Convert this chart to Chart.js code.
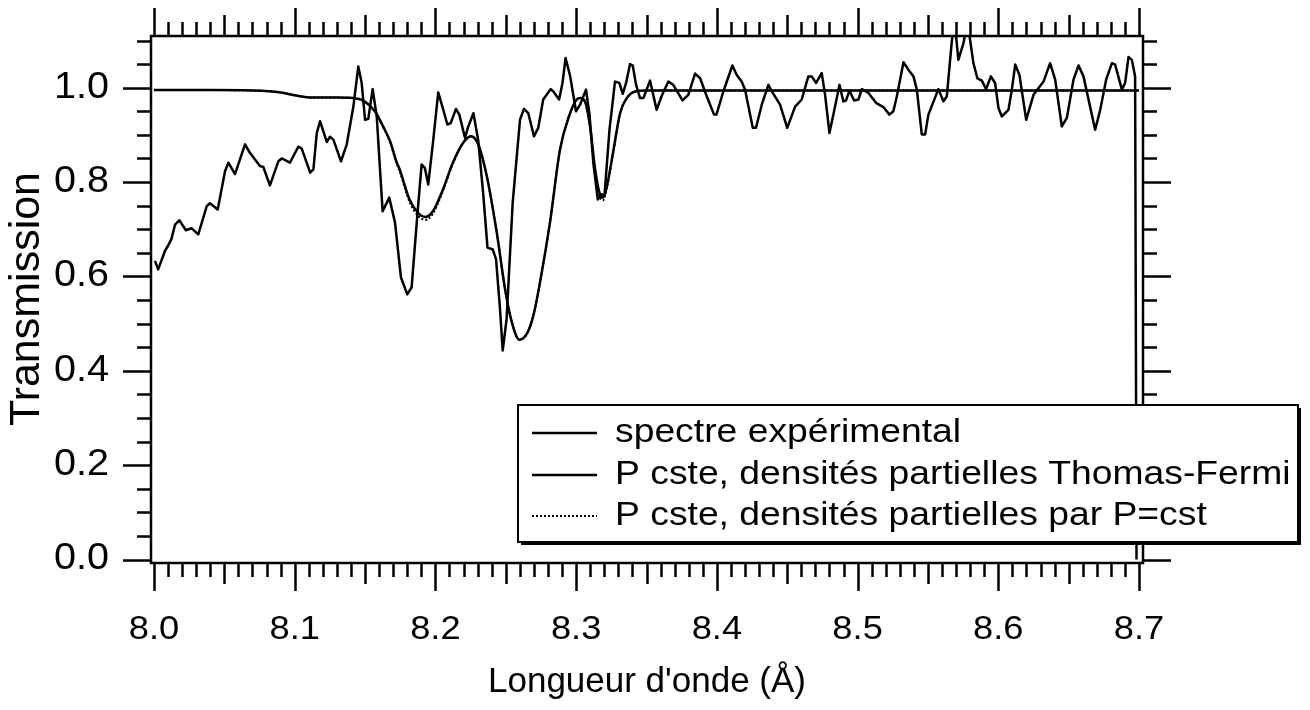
<!DOCTYPE html>
<html>
<head>
<meta charset="utf-8">
<script src="https://cdn.jsdelivr.net/npm/chart.js@4.4.1/dist/chart.umd.min.js"></script>
<style>
  html, body { margin: 0; padding: 0; background: #fff; }
  #wrap { width: 1310px; height: 710px; }
</style>
</head>
<body>
<div id="wrap"><canvas id="transChart" width="1310" height="710"></canvas></div>
<script>
// spectre expérimental
const waveExp = [
  8.0007, 8.0030, 8.0078, 8.0100, 8.0124, 8.0150, 8.0180, 8.0227, 8.0268, 8.0315,
  8.0375, 8.0398, 8.0453, 8.0505, 8.0529, 8.0576, 8.0647, 8.0682, 8.0753, 8.0777,
  8.0824, 8.0884, 8.0908, 8.0966, 8.1026, 8.1050, 8.1110, 8.1133, 8.1157, 8.1180,
  8.1228, 8.1251, 8.1275, 8.1329, 8.1370, 8.1417, 8.1452, 8.1476, 8.1500, 8.1523,
  8.1554, 8.1583, 8.1625, 8.1672, 8.1713, 8.1755, 8.1800, 8.1831, 8.1871, 8.1902,
  8.1925, 8.1949, 8.1985, 8.2020, 8.2056, 8.2085, 8.2109, 8.2146, 8.2170, 8.2210,
  8.2234, 8.2270, 8.2305, 8.2341, 8.2370, 8.2408, 8.2431, 8.2459, 8.2478, 8.2506,
  8.2549, 8.2601, 8.2629, 8.2660, 8.2700, 8.2731, 8.2766, 8.2819, 8.2838, 8.2879,
  8.2903, 8.2925, 8.2957, 8.2999, 8.3028, 8.3070, 8.3094, 8.3122, 8.3154, 8.3183,
  8.3201, 8.3237, 8.3276, 8.3307, 8.3331, 8.3355, 8.3383, 8.3402, 8.3426, 8.3454,
  8.3478, 8.3525, 8.3572, 8.3607, 8.3655, 8.3690, 8.3756, 8.3797, 8.3845, 8.3881,
  8.3928, 8.3980, 8.3997, 8.4046, 8.4110, 8.4141, 8.4176, 8.4200, 8.4255, 8.4278,
  8.4319, 8.4366, 8.4397, 8.4449, 8.4500, 8.4556, 8.4603, 8.4650, 8.4674, 8.4705,
  8.4745, 8.4769, 8.4800, 8.4828, 8.4871, 8.4899, 8.4918, 8.4942, 8.4975, 8.5006,
  8.5030, 8.5077, 8.5131, 8.5183, 8.5226, 8.5254, 8.5279, 8.5326, 8.5361, 8.5397,
  8.5421, 8.5456, 8.5480, 8.5503, 8.5574, 8.5610, 8.5634, 8.5670, 8.5690, 8.5716,
  8.5752, 8.5780, 8.5800, 8.5823, 8.5851, 8.5883, 8.5913, 8.5947, 8.5977, 8.6001,
  8.6025, 8.6072, 8.6096, 8.6120, 8.6150, 8.6198, 8.6250, 8.6285, 8.6321, 8.6368,
  8.6404, 8.6451, 8.6487, 8.6534, 8.6570, 8.6605, 8.6688, 8.6724, 8.6766, 8.6807,
  8.6830, 8.6878, 8.6901, 8.6925, 8.6949, 8.6972, 8.6982
];
const transExp = [
  0.633, 0.615, 0.654, 0.665, 0.679, 0.710, 0.719, 0.698, 0.702, 0.689,
  0.749, 0.755, 0.742, 0.823, 0.841, 0.817, 0.880, 0.862, 0.834, 0.832,
  0.793, 0.844, 0.850, 0.841, 0.875, 0.871, 0.820, 0.827, 0.904, 0.929,
  0.885, 0.896, 0.890, 0.844, 0.880, 0.960, 1.045, 1.010, 0.932, 0.934,
  0.997, 0.939, 0.738, 0.767, 0.714, 0.598, 0.562, 0.577, 0.728, 0.837,
  0.830, 0.795, 0.890, 0.990, 0.953, 0.922, 0.925, 0.955, 0.943, 0.894,
  0.918, 0.946, 0.887, 0.770, 0.661, 0.657, 0.636, 0.531, 0.443, 0.510,
  0.756, 0.932, 0.955, 0.946, 0.897, 0.915, 0.975, 0.997, 0.992, 0.975,
  1.010, 1.063, 1.025, 0.950, 0.964, 0.996, 0.946, 0.841, 0.763, 0.774,
  0.770, 0.911, 1.013, 1.010, 0.987, 1.010, 1.050, 1.047, 1.006, 0.978,
  0.978, 1.015, 0.953, 0.982, 1.013, 1.006, 0.973, 0.985, 1.030, 1.020,
  0.982, 0.943, 0.943, 0.992, 1.047, 1.027, 1.013, 0.996, 0.915, 0.915,
  0.964, 1.006, 0.989, 0.964, 0.915, 0.960, 0.975, 1.024, 1.024, 1.010,
  1.031, 0.985, 0.904, 0.943, 1.006, 0.971, 0.973, 0.994, 0.973, 0.975,
  0.997, 0.989, 0.968, 0.959, 0.943, 0.950, 0.982, 1.054, 1.038, 1.024,
  0.996, 0.901, 0.901, 0.943, 0.997, 0.971, 0.982, 1.100, 1.140, 1.059,
  1.094, 1.140, 1.100, 1.052, 1.020, 1.015, 0.997, 1.024, 1.010, 0.957,
  0.939, 0.953, 0.996, 1.049, 1.027, 0.932, 0.985, 0.999, 1.013, 1.052,
  1.017, 0.918, 0.936, 1.017, 1.047, 1.024, 0.911, 0.953, 1.017, 1.052,
  1.049, 0.996, 1.010, 1.065, 1.059, 1.024, 0.000
];

// P cste, densités partielles Thomas-Fermi
const waveTF = [
  8.000, 8.040, 8.070, 8.090, 8.100, 8.113, 8.130, 8.141, 8.149, 8.157,
  8.163, 8.168, 8.1721, 8.1748, 8.1816, 8.1876, 8.1930, 8.1982, 8.2053, 8.2124,
  8.2196, 8.2253, 8.2305, 8.2365, 8.2436, 8.2495, 8.2543, 8.2596, 8.2649, 8.2696,
  8.2743, 8.2814, 8.2886, 8.2950, 8.3004, 8.3030, 8.3063, 8.3099, 8.3135, 8.3166,
  8.3190, 8.3218, 8.3266, 8.3312, 8.3360, 8.3420, 8.3500, 8.7000
];
const transTF = [
  0.995, 0.995, 0.994, 0.990, 0.984, 0.979, 0.979, 0.978, 0.972, 0.950,
  0.917, 0.885, 0.845, 0.825, 0.763, 0.735, 0.726, 0.738, 0.784, 0.841,
  0.883, 0.897, 0.879, 0.813, 0.693, 0.573, 0.503, 0.466, 0.478, 0.517,
  0.587, 0.714, 0.870, 0.940, 0.975, 0.978, 0.971, 0.918, 0.827, 0.777,
  0.767, 0.791, 0.869, 0.946, 0.978, 0.992, 0.994, 0.994
];

// P cste, densités partielles par P=cst
const wavePcst = [
  8.000, 8.040, 8.070, 8.090, 8.100, 8.113, 8.130, 8.141, 8.149, 8.157,
  8.163, 8.168, 8.1721, 8.1748, 8.1816, 8.1876, 8.1930, 8.1982, 8.2053, 8.2124,
  8.2196, 8.2253, 8.2305, 8.2365, 8.2436, 8.2495, 8.2543, 8.2596, 8.2649, 8.2696,
  8.2743, 8.2814, 8.2886, 8.2950, 8.3004, 8.3030, 8.3063, 8.3099, 8.3135, 8.3166,
  8.3190, 8.3218, 8.3266, 8.3312, 8.3360, 8.3420, 8.3500, 8.7000
];
const transPcst = [
  0.995, 0.995, 0.994, 0.990, 0.984, 0.979, 0.979, 0.978, 0.972, 0.950,
  0.916, 0.883, 0.842, 0.821, 0.758, 0.729, 0.720, 0.733, 0.781, 0.839,
  0.882, 0.897, 0.879, 0.813, 0.693, 0.573, 0.503, 0.466, 0.478, 0.517,
  0.587, 0.714, 0.870, 0.940, 0.975, 0.978, 0.970, 0.915, 0.822, 0.771,
  0.761, 0.786, 0.866, 0.945, 0.978, 0.992, 0.994, 0.994
];

const xTickLabels = ['8.0', '8.1', '8.2', '8.3', '8.4', '8.5', '8.6', '8.7'];
const yTickLabels = ['0.0', '0.2', '0.4', '0.6', '0.8', '1.0'];
const legendLabels = [
  'spectre expérimental',
  'P cste, densités partielles Thomas-Fermi',
  'P cste, densités partielles par P=cst'
];
const xTitle = "Longueur d'onde (Å)";
const yTitle = 'Transmission';

const FONT = '"Liberation Sans", Arial, Helvetica, sans-serif';

function pts(xs, ys) {
  return xs.map(function (x, i) { return { x: x, y: ys[i] }; });
}

// texte légèrement étiré en largeur, comme sur la figure d'origine
function drawText(ctx, txt, x, y, size, align, sx) {
  ctx.save();
  ctx.translate(x, y);
  ctx.scale(sx, 1);
  ctx.font = size + 'px ' + FONT;
  ctx.textAlign = align;
  ctx.textBaseline = 'middle';
  ctx.fillStyle = '#000';
  ctx.fillText(txt, 0, 0);
  ctx.restore();
}

const igorAxes = {
  id: 'igorAxes',
  afterDatasetsDraw(chart) {
    const ctx = chart.ctx;
    const xs = chart.scales.x;
    const ys = chart.scales.y;
    const a = chart.chartArea;

    ctx.save();
    ctx.strokeStyle = '#000';
    ctx.lineWidth = 2.5;
    ctx.lineCap = 'butt';

    // cadre
    ctx.strokeRect(a.left, a.top, a.right - a.left, a.bottom - a.top);

    // graduations horizontales (haut et bas)
    ctx.beginPath();
    for (let i = 0; i <= 70; i++) {
      const px = Math.round(xs.getPixelForValue(8 + i / 100)) + 0.5;
      const len = i % 10 === 0 ? 28 : (i % 5 === 0 ? 21 : 14);
      ctx.moveTo(px, a.bottom);
      ctx.lineTo(px, a.bottom + len);
      ctx.moveTo(px, a.top);
      ctx.lineTo(px, a.top - len);
    }
    // graduations verticales (gauche et droite)
    for (let i = 0; i <= 22; i++) {
      const py = Math.round(ys.getPixelForValue(i * 0.05)) + 0.5;
      const len = i % 4 === 0 ? 28 : 14;
      ctx.moveTo(a.left, py);
      ctx.lineTo(a.left - len, py);
      ctx.moveTo(a.right, py);
      ctx.lineTo(a.right + len, py);
    }
    ctx.stroke();

    // étiquettes
    xTickLabels.forEach(function (lab) {
      drawText(ctx, lab, xs.getPixelForValue(parseFloat(lab)), 630, 33, 'center', 1.1);
    });
    yTickLabels.forEach(function (lab) {
      drawText(ctx, lab, 109, ys.getPixelForValue(parseFloat(lab)), 36, 'right', 1.1);
    });

    // titres des axes
    drawText(ctx, xTitle, (a.left + a.right) / 2, 682, 35, 'center', 1.0);
    ctx.save();
    ctx.translate(27, 299);
    ctx.rotate(-Math.PI / 2);
    drawText(ctx, yTitle, 0, 0, 43, 'center', 1.0);
    ctx.restore();

    // légende avec ombre
    const lx = 518, ly = 405, lw = 780, lh = 137;
    ctx.fillStyle = '#000';
    ctx.fillRect(lx + 3, ly + 3, lw, lh);
    ctx.fillStyle = '#fff';
    ctx.fillRect(lx, ly, lw, lh);
    ctx.lineWidth = 2;
    ctx.strokeRect(lx, ly, lw, lh);

    const rows = [433, 475, 516];
    chart.data.datasets.forEach(function (ds, i) {
      ctx.save();
      ctx.strokeStyle = '#000';
      ctx.lineWidth = ds.borderDash && ds.borderDash.length ? 2 : 2.5;
      ctx.setLineDash(ds.borderDash || []);
      ctx.beginPath();
      ctx.moveTo(532, rows[i]);
      ctx.lineTo(597, rows[i]);
      ctx.stroke();
      ctx.restore();
      drawText(ctx, legendLabels[i], 615, rows[i], 33, 'left', 1.13);
    });

    ctx.restore();
  }
};

new Chart(document.getElementById('transChart').getContext('2d'), {
  type: 'scatter',
  data: {
    datasets: [
      {
        label: legendLabels[0],
        data: pts(waveExp, transExp),
        showLine: true,
        borderColor: '#000',
        borderWidth: 2.5,
        borderJoinStyle: 'round',
        pointRadius: 0,
        tension: 0
      },
      {
        label: legendLabels[1],
        data: pts(waveTF, transTF),
        showLine: true,
        borderColor: '#000',
        borderWidth: 2.5,
        pointRadius: 0,
        cubicInterpolationMode: 'monotone'
      },
      {
        label: legendLabels[2],
        data: pts(wavePcst, transPcst),
        showLine: true,
        borderColor: '#000',
        borderWidth: 2,
        borderDash: [2, 2],
        pointRadius: 0,
        cubicInterpolationMode: 'monotone'
      }
    ]
  },
  options: {
    responsive: false,
    animation: false,
    devicePixelRatio: 1,
    layout: { padding: { left: 151, top: 36, right: 167, bottom: 147 } },
    scales: {
      x: { type: 'linear', min: 7.9979, max: 8.7028, display: false },
      y: { type: 'linear', min: -0.0074, max: 1.1096, display: false }
    },
    plugins: {
      legend: { display: false },
      tooltip: { enabled: false }
    }
  },
  plugins: [igorAxes]
});
</script>
</body>
</html>
